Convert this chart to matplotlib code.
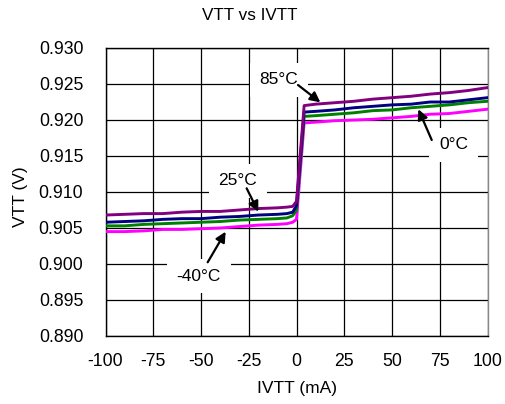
import matplotlib
matplotlib.use("Agg")
import matplotlib.pyplot as plt

plt.rcParams['font.family'] = ['Liberation Sans', 'DejaVu Sans']

ivtt = [-100, -90, -80, -70, -60, -50, -40, -30, -20, -10, -5, -2, 0, 4,
        10, 20, 30, 40, 50, 60, 70, 80, 90, 100]
vtt_85 = [0.9068, 0.9069, 0.9070, 0.9070, 0.9072, 0.9073, 0.9073, 0.9075, 0.9077, 0.9078, 0.9079, 0.9080, 0.9087, 0.9220,
          0.9222, 0.9224, 0.9226, 0.9229, 0.9231, 0.9233, 0.9236, 0.9238, 0.9241, 0.9245]
vtt_25 = [0.9058, 0.9059, 0.9060, 0.9062, 0.9063, 0.9063, 0.9065, 0.9066, 0.9068, 0.9069, 0.9070, 0.9072, 0.9081, 0.9211,
          0.9212, 0.9214, 0.9217, 0.9219, 0.9221, 0.9222, 0.9225, 0.9225, 0.9228, 0.9231]
vtt_0 = [0.9053, 0.9053, 0.9055, 0.9056, 0.9057, 0.9058, 0.9059, 0.9061, 0.9062, 0.9063, 0.9064, 0.9067, 0.9075, 0.9205,
         0.9206, 0.9208, 0.9210, 0.9213, 0.9214, 0.9217, 0.9219, 0.9221, 0.9224, 0.9226]
vtt_m40 = [0.9045, 0.9045, 0.9046, 0.9048, 0.9048, 0.9049, 0.9050, 0.9052, 0.9054, 0.9055, 0.9056, 0.9058, 0.9062, 0.9196,
           0.9197, 0.9199, 0.9200, 0.9201, 0.9203, 0.9205, 0.9208, 0.9209, 0.9212, 0.9215]

xticks = [-100, -75, -50, -25, 0, 25, 50, 75, 100]
yticks = [0.890, 0.895, 0.900, 0.905, 0.910, 0.915, 0.920, 0.925, 0.930]

fig = plt.figure(figsize=(5.05, 4.04), dpi=100)
ax = fig.add_axes([105.5/505, 1-336/404, (487.5-105.5)/505, (336-48)/404])

ax.plot(ivtt, vtt_m40, color='#FF00FF', lw=2.1, zorder=3)
ax.plot(ivtt, vtt_0, color='#008000', lw=2.1, zorder=3)
ax.plot(ivtt, vtt_25, color='#000080', lw=2.1, zorder=3)
ax.plot(ivtt, vtt_85, color='#800080', lw=2.1, zorder=3)

ax.set_xlim(-100, 100)
ax.set_ylim(0.890, 0.930)
ax.set_xticks(xticks)
ax.set_xticklabels([str(t) for t in xticks])
ax.set_yticks(yticks)
ax.set_yticklabels([f"{t:.3f}" for t in yticks])
ax.tick_params(length=0, labelsize=12.7)
ax.tick_params(axis='x', pad=12)
ax.tick_params(axis='y', pad=16)
ax.grid(True, color='black', lw=0.9, zorder=1)
ax.set_axisbelow(True)
for s in ['left', 'bottom', 'top']:
    ax.spines[s].set_color('black')
    ax.spines[s].set_linewidth(1.0)
ax.spines['right'].set_color('#888888')
ax.spines['right'].set_linewidth(1.0)

box = dict(boxstyle='square,pad=0.55', fc='white', ec='none')
labels = [("85°C", -9.1, 0.92556, (0.8, 0.92486), (12.5, 0.92245)),
          ("0°C", 82.2, 0.91653, (70.8, 0.91722), (63.8, 0.92149)),
          ("25°C", -30.7, 0.91153, (-26.1, 0.91051), (-20.0, 0.90726)),
          ("-40°C", -51.1, 0.89833, (-46.5, 0.90024), (-37.1, 0.90449))]
for txt, tx, ty, start, tip in labels:
    ax.text(tx, ty, txt, ha='center', va='center', fontsize=12.5, bbox=box, zorder=4)
    ax.annotate('', xy=tip, xytext=start,
                arrowprops=dict(arrowstyle='-|>', color='black', lw=1.6,
                                mutation_scale=15, shrinkA=0, shrinkB=0),
                zorder=5)

fig.text(249.5/505, 1-16/404, "VTT vs IVTT", ha='center', va='center', fontsize=12.3)
fig.text(297/505, 1-389/404, "IVTT (mA)", ha='center', va='center', fontsize=12.5)
fig.text(20/505, 1-197/404, "VTT (V)", ha='center', va='center', fontsize=12.5, rotation=90)

fig.savefig("out.png", dpi=100)
